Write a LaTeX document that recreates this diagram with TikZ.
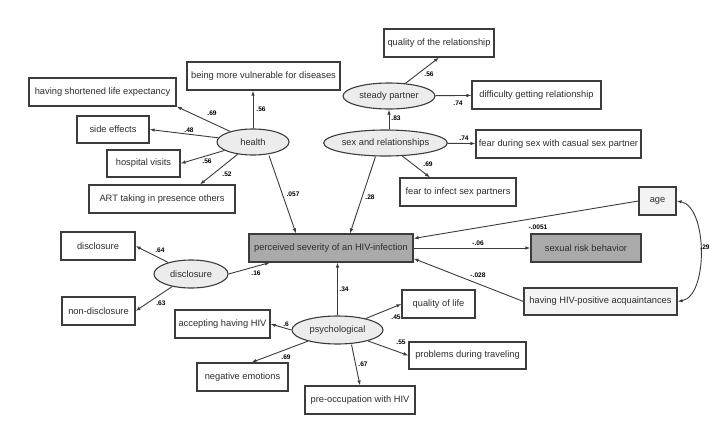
\documentclass[tikz,border=0pt]{standalone}
\usepackage{fontspec}
\setmainfont{Liberation Sans}
\usetikzlibrary{arrows.meta,shapes.geometric}
\definecolor{LineGray}{RGB}{60,60,60}
\definecolor{TextGray}{RGB}{45,45,45}
\definecolor{LatentFill}{RGB}{236,236,236}
\definecolor{OutcomeFill}{RGB}{170,170,170}
\definecolor{ObsFill}{RGB}{243,243,243}

\begin{document}
\begin{tikzpicture}[x=1pt,y=-1pt,
    every node/.style={text=TextGray,font=\fontsize{9.3}{11}\selectfont},
    obs/.style={draw=LineGray,line width=1.1pt,minimum height=28pt,inner sep=1pt},
    latent/.style={ellipse,draw=LineGray,fill=LatentFill,line width=1.1pt,
      inner sep=0pt,minimum height=26pt},
    coef/.style={font=\bfseries\fontsize{6.6}{8}\selectfont,text=black,inner sep=0pt},
    arr/.style={-{Latex[length=5pt,width=3.5pt]},draw=LineGray,line width=.9pt}]
  \fill[white] (0,0) rectangle (709,444);
  \useasboundingbox (0,0) rectangle (709,444);

  % health
  \node[latent,minimum width=72pt] (health) at (253,142) {health};
  \node[obs,minimum width=153pt] (vuln) at (263.5,76) {being more vulnerable for diseases};
  \node[obs,minimum width=147pt] (lifeexp) at (102.5,92) {having shortened life expectancy};
  \node[obs,minimum width=72pt,minimum height=27pt] (sideeff) at (113,129.5) {side effects};
  \node[obs,minimum width=73pt,minimum height=27pt] (hospital) at (143.5,163.5) {hospital visits};
  \node[obs,minimum width=146pt] (artpres) at (162,199) {ART taking in presence others};

  % sex and relationships
  \node[latent,minimum width=111pt] (sexrel) at (385.5,143) {sex and relationships};
  \node[latent,minimum width=92pt] (steady) at (389,96) {steady partner};
  \node[obs,minimum width=110pt] (qualrel) at (439,43) {quality of the relationship};
  \node[obs,minimum width=129pt] (diffrel) at (536.5,95) {difficulty getting relationship};
  \node[obs,minimum width=165pt] (fearsex) at (558.5,144) {fear during sex with casual sex partner};
  \node[obs,minimum width=116pt] (fearinf) at (458,192) {fear to infect sex partners};

  % disclosure
  \node[latent,minimum width=74pt,minimum height=28pt] (disc) at (191,274) {disclosure};
  \node[obs,minimum width=74pt] (discbox) at (98,246) {disclosure};
  \node[obs,minimum width=73pt] (nondisc) at (98.5,311) {non-disclosure};

  % psychological
  \node[latent,minimum width=91pt,minimum height=28pt] (psych) at (337.5,330) {psychological};
  \node[obs,minimum width=95pt] (accept) at (222.5,324) {accepting having HIV};
  \node[obs,minimum width=91pt] (negemo) at (242.5,377) {negative emotions};
  \node[obs,minimum width=110pt] (preocc) at (360,400) {pre-occupation with HIV};
  \node[obs,minimum width=73pt] (qlife) at (438.5,304) {quality of life};
  \node[obs,minimum width=117pt,minimum height=27pt] (travel) at (467.5,355.5) {problems during traveling};

  % outcomes and covariates
  \node[obs,fill=OutcomeFill,minimum width=164pt] (severity) at (331,248) {perceived severity of an HIV-infection};
  \node[obs,fill=OutcomeFill,minimum width=110pt] (risk) at (586,248) {sexual risk behavior};
  \node[obs,fill=ObsFill,minimum width=37pt] (age) at (657.5,201) {age};
  \node[obs,fill=ObsFill,minimum width=153pt,minimum height=27pt] (acquaint) at (600.5,301.5) {having HIV-positive acquaintances};

  % loadings and paths
  \draw[arr] (health.north) -- (health.north |- vuln.south);
  \draw[arr] (health) -- (lifeexp.south east);
  \draw[arr] (health) -- (sideeff.east);
  \draw[arr] (health) -- (hospital.east);
  \draw[arr] (health) -- ([xshift=38pt]artpres.north);
  \draw[arr] ([xshift=16pt]health.south) -- ([xshift=-35pt]severity.north);

  \draw[arr] (sexrel.north -| steady.south) -- (steady.south);
  \draw[arr] (steady) -- (qualrel.south);
  \draw[arr] (steady) -- (diffrel);
  \draw[arr] (sexrel) -- (fearsex);
  \draw[arr] (sexrel) -- ([xshift=-28pt]fearinf.north);
  \draw[arr] ([xshift=-10pt]sexrel.south) -- ([xshift=19pt]severity.north);

  \draw[arr] (disc) -- (discbox.east);
  \draw[arr] (disc) -- (nondisc.east);
  \draw[arr] (disc.east) -- ([xshift=-61pt]severity.south);

  \draw[arr] (psych.north) -- (psych.north |- severity.south);
  \draw[arr] (psych.west) -- (accept.east);
  \draw[arr] (psych) -- ([xshift=9pt]negemo.north);
  \draw[arr] ([xshift=14pt]psych.south) -- (preocc.north);
  \draw[arr] (psych) -- (qlife.west);
  \draw[arr] (psych) -- (travel.west);

  \draw[arr] (severity) -- (risk);
  \draw[arr] (age.west) -- ([yshift=-5pt]severity.north east);
  \draw[arr] (acquaint.west) -- ([yshift=4pt]severity.south east);
  \draw[arr,{Latex[length=5pt,width=3.5pt]}-{Latex[length=5pt,width=3.5pt]}]
    (age.east) to[out=-10,in=10,looseness=.8] (acquaint.east);

  % coefficients
  \foreach \nm/\x/\y/\t in {c1/261/109/.56, c2/212/113/.69, c3/189/130/.48,
      c4/207/161/.56, c5/227/174/.52, c6/293/194/.057, c7/429/74/.56,
      c8/458/103/.74, c9/396/118/.83, c10/464/138/.74, c11/428/164/.69,
      c12/370/197/.28, c13/538/227/-.0051, c14/160/250/.64, c15/161/303/.63,
      c16/256/273/.16, c17/344/289/.34, c18/286/324/.6, c19/286/357/.69,
      c20/363/364/.67, c21/396/317/.45, c22/401/342/.55, c23/478/243/-.06,
      c24/478/275/-.028, c25/705/247/.29}
    \node[coef] (\nm) at (\x,\y) {\t};
\end{tikzpicture}
\end{document}
